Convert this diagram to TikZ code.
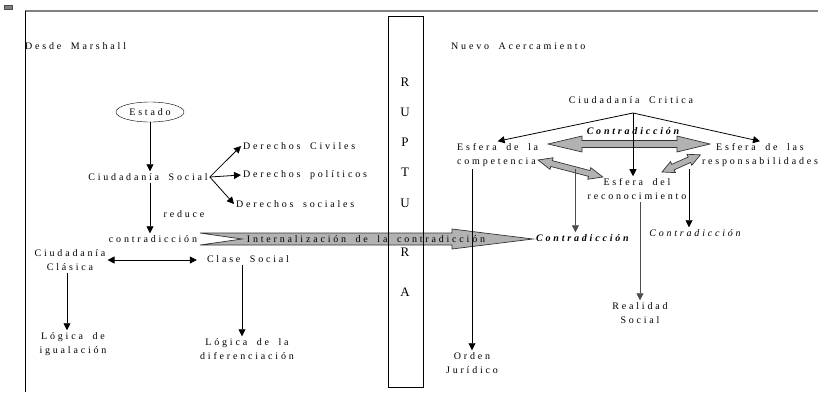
\documentclass[tikz,border=0pt]{standalone}
\usepackage{fontspec}
\setmainfont{Liberation Serif}
\newfontfamily\lbfont{Liberation Serif}[LetterSpace=28, WordSpace=1.8]
\usetikzlibrary{shapes.geometric,arrows.meta}

\begin{document}
\begin{tikzpicture}[x=1pt,y=-1pt,
    lbl/.style={font=\lbfont\fontsize{10}{14}\selectfont, inner sep=2pt, align=center},
    cbi/.style={lbl, font=\lbfont\fontsize{10}{14}\selectfont\bfseries\itshape},
    ci/.style={lbl, font=\lbfont\fontsize{10}{14}\selectfont\itshape},
    arr/.style={-{Triangle[length=7pt,width=7pt]}, line width=0.8pt},
    dblarr/.style={{Triangle[length=7pt,width=7pt]}-{Triangle[length=7pt,width=7pt]}, line width=0.8pt},
    bigarrow/.style={draw=black!80, fill=gray!60, line width=0.7pt, line join=miter}]
  \useasboundingbox (0,0) rectangle (818,392);

  % frame
  \filldraw[fill=gray, draw=black!70] (4,5) rectangle (12,9);
  \draw[gray, line width=2pt] (25,11) -- (818,11);
  \draw[line width=1pt] (25,11) -- (25,392);

  % left side: Desde Marshall
  \node[lbl, anchor=west, inner sep=0] (desde) at (25,46) {Desde Marshall};
  \node[lbl, draw, ellipse, minimum width=68, minimum height=20, inner sep=0] (estado) at (150,112) {Estado};
  \node[lbl] (csocial) at (148,177) {Ciudadanía Social};
  \node[lbl, anchor=west] (dciv) at (241,146) {Derechos Civiles};
  \node[lbl, anchor=west] (dpol) at (241,175) {Derechos políticos};
  \node[lbl, anchor=west] (dsoc) at (234,204) {Derechos sociales};
  \node[lbl] (contra) at (153,239) {contradicción};
  \node[lbl] (reduce) at (184,214) {reduce};
  \node[lbl] (cclas) at (70,260) {Ciudadanía\\Clásica};
  \node[lbl] (clase) at (248,259) {Clase Social};
  \node[lbl] (ligual) at (73,344) {Lógica de\\igualación};
  \node[lbl] (ldif) at (247,349) {Lógica de la\\diferenciación};

  \draw[arr] (estado.south) -- (estado.south |- csocial.north);
  \foreach \d in {dciv,dpol,dsoc}
    \draw[arr] (csocial.east) -- (\d.west);
  \draw[arr] (estado.south |- csocial.south) -- (estado.south |- contra.north);
  \draw[dblarr] (cclas.east) -- ([xshift=-8pt]clase.west |- cclas.east);
  \draw[arr] ([xshift=-3pt]cclas.south) -- ([xshift=-3pt]cclas.south |- ligual.north);
  \draw[arr] ([xshift=-6pt]clase.south) -- ([xshift=-6pt]clase.south |- ldif.north);

  % internalizacion
  \draw[bigarrow] (200,233) -- (452,233) -- (452,229) -- (533,239) -- (452,249)
    -- (452,245) -- (200,245) -- (242,239) -- cycle;

  % ruptura
  \node[draw, minimum width=35, minimum height=371, inner sep=0] (ruptura) at (405.5,201.5) {};
  \foreach \l/\y in {R/82,U/112,P/142,T/172,U/203,R/252,A/292}
    \node[font=\fontsize{13}{14}\selectfont] at (405,\y) {\l};
  \node[lbl] (intern) at (366,239) {Internalización de la contradicción};

  % right side: Nuevo Acercamiento
  \node[lbl, anchor=west, inner sep=0] (nuevo) at (451,46) {Nuevo Acercamiento};
  \node[lbl] (critica) at (631,100) {Ciudadanía Critica};
  \coordinate (apex) at (633,113);
  \node[lbl, align=left, anchor=west] (ecomp) at (455,155) {Esfera de la\\competencia};
  \node[lbl] (eresp) at (760,155) {Esfera de las\\responsabilidades};
  \node[lbl] (erec) at (637,189) {Esfera del\\reconocimiento};
  \node[cbi] (contratop) at (633,131) {Contradicción};
  \node[cbi, anchor=west] (contrab) at (534,238) {Contradicción};
  \node[ci] (contrai) at (695,233) {Contradicción};
  \node[lbl] (orden) at (472,363) {Orden\\Jurídico};
  \node[lbl] (realsoc) at (640,313) {Realidad\\Social};

  \draw[bigarrow] (548,144) -- (582,136) -- (582,140.5) -- (677,140.5) -- (677,136)
    -- (710,144) -- (677,152) -- (677,147.5) -- (582,147.5) -- (582,152) -- cycle;
  \begin{scope}[shift={(538,160)}, rotate=-14.7]
    \draw[bigarrow] (0,0) -- (14,-6) -- (14,-3) -- (53,-3) -- (53,-6) -- (67,0)
      -- (53,6) -- (53,3) -- (14,3) -- (14,6) -- cycle;
  \end{scope}
  \begin{scope}[shift={(662,172)}, rotate=24.1]
    \draw[bigarrow] (0,0) -- (12,-6) -- (12,-3) -- (30,-3) -- (30,-6) -- (42,0)
      -- (30,6) -- (30,3) -- (12,3) -- (12,6) -- cycle;
  \end{scope}

  \draw[arr] (apex) -- (ecomp.north);
  \draw[arr] (apex) -- (eresp.north);
  \draw[arr] (apex) -- (apex |- erec.north);
  \draw[arr, black!70] ([xshift=-7pt]contrab.north |- ecomp.south) -- ([xshift=-7pt]contrab.north);
  \draw[arr] (orden.north |- ecomp.south) -- (orden.north);
  \draw[arr, black!70] (realsoc.north |- erec.south) -- (realsoc.north);
  \draw[arr] ([xshift=-6pt]contrai.north |- eresp.south) -- ([xshift=-6pt]contrai.north);
\end{tikzpicture}
\end{document}
